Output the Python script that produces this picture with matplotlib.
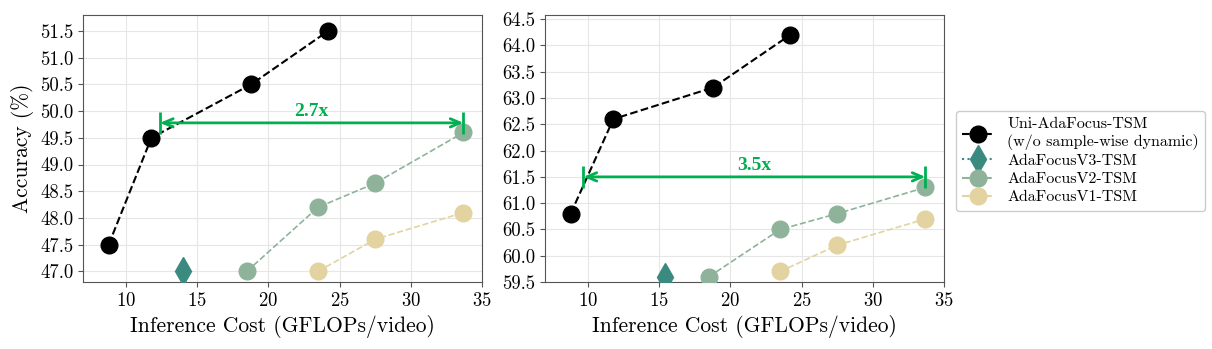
import matplotlib
matplotlib.use('Agg')
import matplotlib.pyplot as plt
from matplotlib.lines import Line2D

plt.rcParams['font.family'] = 'serif'
plt.rcParams['font.serif'] = ['cmr10']
plt.rcParams['mathtext.fontset'] = 'cm'
plt.rcParams['axes.formatter.use_mathtext'] = True

# Left panel data
uni_x_l = [8.8, 11.8, 18.8, 24.2]
uni_y_l = [47.5, 49.5, 50.5, 51.5]
v3_x_l = [14.0]
v3_y_l = [47.0]
v2_x_l = [18.5, 23.5, 27.5, 33.7]
v2_y_l = [47.0, 48.2, 48.65, 49.6]
v1_x_l = [23.5, 27.5, 33.7]
v1_y_l = [47.0, 47.6, 48.1]

# Right panel data
uni_x_r = [8.8, 11.8, 18.8, 24.2]
uni_y_r = [60.8, 62.6, 63.2, 64.2]
v3_x_r = [15.4]
v3_y_r = [59.6]
v2_x_r = [18.5, 23.5, 27.5, 33.7]
v2_y_r = [59.6, 60.5, 60.8, 61.3]
v1_x_r = [23.5, 27.5, 33.7]
v1_y_r = [59.7, 60.2, 60.7]

# speedup arrows: (x_start, x_end, y, label)
arrow_l = (12.4, 33.7, 49.78, '2.7x')
arrow_r = (9.7, 33.7, 61.5, '3.5x')

c_uni = 'black'
c_v3 = '#3a8a80'
c_v2 = '#8fb39a'
c_v1 = '#e3d3a1'
c_green = '#00b050'

fig = plt.figure(figsize=(12.12, 3.49), dpi=100)
ax1 = fig.add_axes([83/1212, 1-282/349, 399/1212, 267/349])
ax2 = fig.add_axes([545/1212, 1-282/349, 399/1212, 267/349])


def draw(ax, ux, uy, v3x, v3y, v2x, v2y, v1x, v1y, arrow):
    ax.grid(True, color='#e6e6e6', linewidth=0.8, zorder=0)
    ax.set_axisbelow(True)
    ax.plot(v1x, v1y, '--', color=c_v1, marker='o', markersize=12, linewidth=1.2, zorder=3)
    ax.plot(v2x, v2y, '--', color=c_v2, marker='o', markersize=12, linewidth=1.2, zorder=3)
    ax.plot(v3x, v3y, ':', color=c_v3, marker='d', markersize=14, zorder=3)
    ax.plot(ux, uy, '--', color=c_uni, marker='o', markersize=12, linewidth=1.5, zorder=4)
    x0, x1, y, txt = arrow
    ax.annotate('', xy=(x1, y), xytext=(x0, y),
                arrowprops=dict(arrowstyle='<->,head_length=0.7,head_width=0.3',
                                color=c_green, lw=2, shrinkA=0, shrinkB=0), zorder=5)
    ax.plot([x0, x1], [y, y], linestyle='none', marker='|', markersize=16,
            markeredgewidth=2, color=c_green, zorder=5)
    ax.text((x0 + x1) / 2, y + 0.06, txt, color=c_green, fontsize=14, fontweight='bold',
            ha='center', va='bottom', family='Liberation Serif')
    ax.set_xlim(7, 35)
    ax.set_xticks([10, 15, 20, 25, 30, 35])
    ax.tick_params(labelsize=13.5, color='#555555')
    for s in ax.spines.values():
        s.set_color('#555555')
    ax.set_xlabel('Inference Cost (GFLOPs/video)', fontsize=15.5)


draw(ax1, uni_x_l, uni_y_l, v3_x_l, v3_y_l, v2_x_l, v2_y_l, v1_x_l, v1_y_l, arrow_l)
ax1.set_ylim(46.8, 51.8)
ax1.set_yticks([47.0, 47.5, 48.0, 48.5, 49.0, 49.5, 50.0, 50.5, 51.0, 51.5])
ax1.set_yticklabels(['47.0', '47.5', '48.0', '48.5', '49.0', '49.5', '50.0', '50.5', '51.0', '51.5'])
ax1.set_ylabel('Accuracy (%)', fontsize=15.5)

draw(ax2, uni_x_r, uni_y_r, v3_x_r, v3_y_r, v2_x_r, v2_y_r, v1_x_r, v1_y_r, arrow_r)
ax2.set_ylim(59.5, 64.58)
ax2.set_yticks([59.5, 60.0, 60.5, 61.0, 61.5, 62.0, 62.5, 63.0, 63.5, 64.0, 64.5])
ax2.set_yticklabels(['59.5', '60.0', '60.5', '61.0', '61.5', '62.0', '62.5', '63.0', '63.5', '64.0', '64.5'])

handles = [
    Line2D([], [], color=c_uni, linestyle='--', marker='o', markersize=12, linewidth=1.5),
    Line2D([], [], color=c_v3, linestyle=':', marker='d', markersize=14),
    Line2D([], [], color=c_v2, linestyle='--', marker='o', markersize=12),
    Line2D([], [], color=c_v1, linestyle='--', marker='o', markersize=12),
]
labels = ['Uni-AdaFocus-TSM\n(w/o sample-wise dynamic)', 'AdaFocusV3-TSM',
          'AdaFocusV2-TSM', 'AdaFocusV1-TSM']
fig.legend(handles, labels, loc='center left', bbox_to_anchor=(948/1212, 1-161/349),
           fontsize=11.5, handlelength=2, labelspacing=0.25, framealpha=1)

fig.savefig('out.png', dpi=100)
